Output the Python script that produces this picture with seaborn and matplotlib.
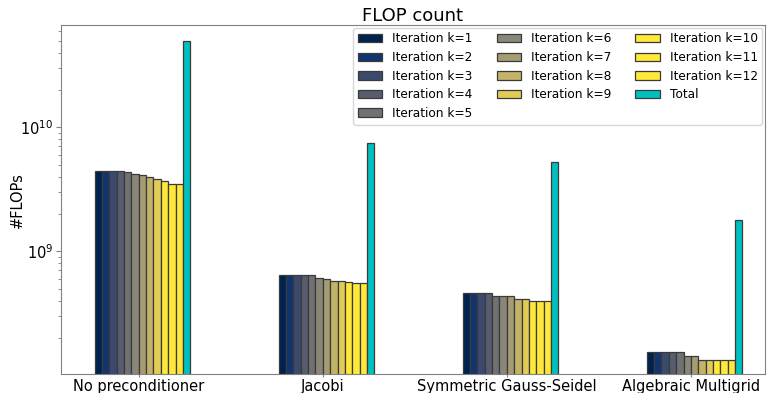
import numpy as np
import pandas as pd
import matplotlib
matplotlib.use("Agg")
import matplotlib.pyplot as plt
import seaborn as sns

# FLOP counts (log scale)
methods = ["No preconditioner", "Jacobi", "Symmetric Gauss-Seidel", "Algebraic Multigrid"]
series = [f"Iteration k={k}" for k in range(1, 13)] + ["Total"]

no_prec = [4.47e9, 4.43e9, 4.47e9, 4.43e9, 4.36e9, 4.23e9, 4.12e9, 4.0e9, 3.83e9, 3.66e9, 3.51e9, 3.51e9, 4.99e10]
jacobi = [6.38e8, 6.38e8, 6.38e8, 6.38e8, 6.38e8, 6.11e8, 6.0e8, 5.78e8, 5.78e8, 5.67e8, 5.53e8, 5.53e8, 7.43e9]
sgs = [4.56e8, 4.56e8, 4.56e8, 4.56e8, 4.37e8, 4.37e8, 4.37e8, 4.12e8, 4.12e8, 3.94e8, 3.94e8, 3.94e8, 5.22e9]
amg = [1.54e8, 1.54e8, 1.54e8, 1.54e8, 1.54e8, 1.43e8, 1.43e8, 1.32e8, 1.32e8, 1.32e8, 1.32e8, 1.32e8, 1.78e9]

rows = []
for method, vals in zip(methods, [no_prec, jacobi, sgs, amg]):
    for s, v in zip(series, vals):
        rows.append((method, s, v))
df = pd.DataFrame(rows, columns=["method", "series", "flops"])

cmap = plt.get_cmap("cividis")
palette = [cmap(min(i / 9, 1.0)) for i in range(12)] + [(0.0, 0.75, 0.75)]

sns.set_style("white")
plt.rcParams["axes.edgecolor"] = "#808080"
plt.rcParams["text.color"] = "black"
plt.rcParams["axes.labelcolor"] = "black"
plt.rcParams["xtick.color"] = "black"
plt.rcParams["ytick.color"] = "black"
plt.rcParams["font.family"] = ["DejaVu Sans"]

fig = plt.figure(figsize=(7.68, 3.93), dpi=100)
ax = fig.add_axes([0.079, 0.048, 0.917, 0.888])
ax.set_yscale("log")

sns.barplot(data=df, x="method", y="flops", hue="series", hue_order=series,
            order=methods, palette=palette, width=0.52, gap=0, dodge=True,
            edgecolor="#3a3a3a", linewidth=0.9, saturation=1, ax=ax)

ax.set_ylim(1.02e8, 6.65e10)
ax.set_xlim(-0.444, 3.382)
ax.set_xticks(np.arange(len(methods)) - 0.02)
ax.set_xticklabels(methods, fontsize=10.5)
ax.tick_params(axis="y", which="major", labelsize=10.5, left=True, length=3.5,
               color="#808080", pad=2)
ax.tick_params(axis="y", which="minor", left=True, length=2, color="#808080")
ax.tick_params(axis="x", bottom=True, length=2.5, color="#808080", pad=1)
ax.set_xlabel("")
ax.set_ylabel("#FLOPs", fontsize=10.5)
ax.yaxis.set_label_coords(-0.051, 0.5)
ax.set_title("FLOP count", fontsize=13, pad=3)

sns.move_legend(ax, "upper right", ncol=3, title=None, fontsize=8.75,
                frameon=True, columnspacing=2.0, handlelength=2.0,
                labelspacing=0.46, borderaxespad=0.2)

fig.savefig("out.png", dpi=100)
